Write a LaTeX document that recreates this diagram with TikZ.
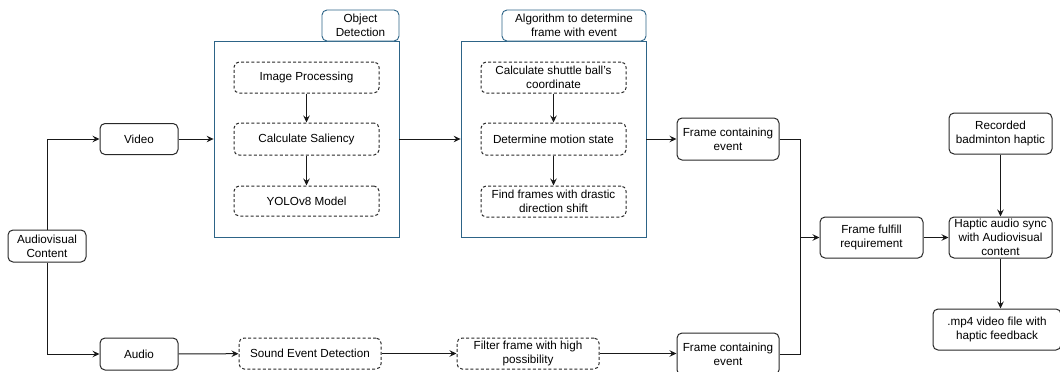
\documentclass[tikz,border=0pt]{standalone}
\usepackage{fontspec}
\setmainfont{Liberation Sans}
\usetikzlibrary{arrows.meta}

\definecolor{linec}{RGB}{25,25,25}
\definecolor{boxc}{RGB}{40,40,40}
\definecolor{grpc}{RGB}{45,100,135}

\newcommand{\lbl}{\fontsize{11.7}{13.8}\selectfont}

\tikzset{
  box/.style={draw=boxc, rounded corners=5pt, line width=1pt, align=center,
              inner sep=0pt, font=\lbl, fill=white},
  dbox/.style={box, dash pattern=on 3pt off 2.2pt},
  grp/.style={draw=grpc, line width=0.8pt, inner sep=0pt},
  tabbox/.style={draw=grpc, rounded corners=5pt, line width=0.9pt, fill=white,
                 align=center, inner sep=0pt, font=\lbl},
  arr/.style={draw=linec, line width=1pt, -{Stealth[length=7pt,width=6.5pt,inset=2.5pt]}},
  ln/.style={draw=linec, line width=1pt}
}

\begin{document}
\begin{tikzpicture}[x=1pt,y=-1pt]
\useasboundingbox (0,0) rectangle (1060,372);

% group containers
\node[grp, minimum width=185pt, minimum height=196pt] (od) at (306.5,139) {};
\node[grp, minimum width=185pt, minimum height=196pt] (alg) at (553.5,139) {};
\node[tabbox, minimum width=77pt, minimum height=31pt] (odtab) at (360.5,25.5) {Object\\Detection};
\node[tabbox, minimum width=144pt, minimum height=31pt] (algtab) at (574,25.5) {Algorithm to determine\\frame with event};

% input split
\node[box, minimum width=78pt, minimum height=32pt] (av) at (47,246) {Audiovisual\\Content};
\node[box, minimum width=78pt, minimum height=31pt] (video) at (139,139) {Video};
\node[box, minimum width=78pt, minimum height=32pt] (audio) at (139,354) {Audio};

% object detection steps
\node[dbox, minimum width=145pt, minimum height=31pt] (ip) at (306.5,77.5) {Image Processing};
\node[dbox, minimum width=145pt, minimum height=32pt] (sal) at (306.5,139) {Calculate Saliency};
\node[dbox, minimum width=145pt, minimum height=30pt] (yolo) at (306.5,201) {YOLOv8 Model};

% event frame algorithm steps
\node[dbox, minimum width=145pt, minimum height=31pt] (shut) at (553.5,77.5) {Calculate shuttle ball's\\coordinate};
\node[dbox, minimum width=145pt, minimum height=32pt] (mot) at (553.5,139) {Determine motion state};
\node[dbox, minimum width=145pt, minimum height=31pt] (find) at (553.5,201.5) {Find frames with drastic\\direction shift};

% audio branch
\node[dbox, minimum width=142pt, minimum height=31pt] (sed) at (310,353.5) {Sound Event Detection};
\node[dbox, minimum width=142pt, minimum height=31pt] (filt) at (528,353.5) {Filter frame with high\\possibility};

% event frames
\node[box, minimum width=102pt, minimum height=42pt] (fce1) at (728,139) {Frame containing\\event};
\node[box, minimum width=102pt, minimum height=42pt] (fce2) at (728,354) {Frame containing\\event};

% output stage
\node[box, minimum width=103pt, minimum height=41pt] (ff) at (871.5,237.5) {Frame fulfill\\requirement};
\node[box, minimum width=103pt, minimum height=41pt] (sync) at (1000.5,237.5) {Haptic audio sync\\with Audiovisual\\content};
\node[box, minimum width=103pt, minimum height=41pt] (rec) at (1000.5,133.5) {Recorded\\badminton haptic};
\node[box, minimum width=128pt, minimum height=41pt] (mp4) at (997,329.5) {.mp4 video file with\\haptic feedback};

\coordinate (j) at (800,237.5);

% connectors
\draw[arr] (av.north) |- (video.west);
\draw[arr] (av.south) |- (audio.west);
\draw[arr] (video.east) -- (od.west);
\draw[arr] (ip) -- (sal);
\draw[arr] (sal) -- (yolo);
\draw[arr] (od.east) -- (alg.west);
\draw[arr] (shut) -- (mot);
\draw[arr] (mot) -- (find);
\draw[arr] (alg.east) -- (fce1.west);
\draw[arr] (audio) -- (sed);
\draw[arr] (sed) -- (filt);
\draw[arr] (filt) -- (fce2.west |- filt);
\draw[ln] (fce1.east) -| (j);
\draw[ln] (fce2.east) -| (j);
\draw[arr] (j) -- (ff.west);
\draw[arr] (ff) -- (sync);
\draw[arr] (rec) -- (sync);
\draw[arr] (sync.south) -- (sync.south |- mp4.north);
\end{tikzpicture}
\end{document}
